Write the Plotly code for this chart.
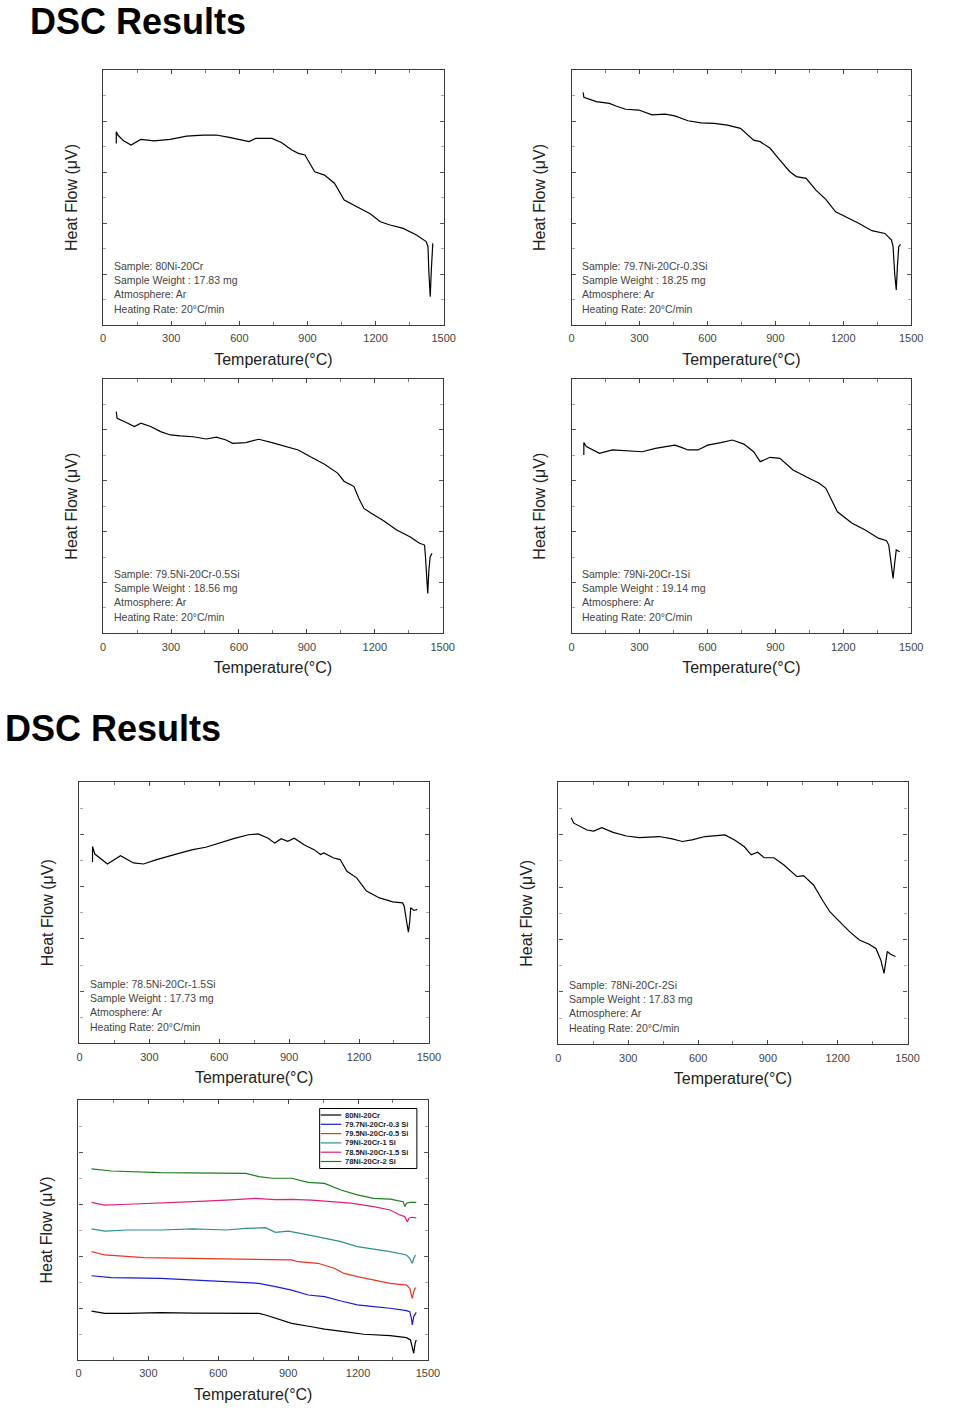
import plotly.graph_objects as go

# ---------------- data ----------------
# Panel 1: 80Ni-20Cr
T1 = [58, 58, 65, 90, 123, 166, 224, 296, 368, 441, 498, 556, 643, 672, 744, 787, 831, 860, 889, 932,
      975, 1019, 1062, 1120, 1178, 1221, 1264, 1322, 1380, 1423, 1431, 1435, 1441, 1445, 1449, 1452]
HF1 = [7.12, 7.58, 7.45, 7.22, 7.06, 7.28, 7.22, 7.28, 7.41, 7.45, 7.45, 7.36, 7.19, 7.32, 7.32, 7.15, 6.86, 6.73, 6.67, 6.01,
       5.88, 5.56, 4.90, 4.64, 4.35, 4.05, 3.92, 3.79, 3.53, 3.27, 3.07, 2.03, 1.11, 2.03, 3.14, 3.20]

# Panel 2: 79.7Ni-20Cr-0.3Si
T2 = [51, 54, 109, 167, 196, 239, 297, 355, 413, 456, 514, 572, 630, 688, 746, 804, 833, 877, 920, 964,
      993, 1036, 1079, 1123, 1166, 1210, 1268, 1326, 1384, 1413, 1420, 1427, 1434, 1439, 1445, 1453]
HF2 = [9.12, 8.93, 8.76, 8.69, 8.59, 8.46, 8.43, 8.24, 8.27, 8.20, 8.01, 7.93, 7.91, 7.84, 7.71, 7.25, 7.19, 6.93, 6.47, 6.01,
       5.82, 5.75, 5.29, 4.93, 4.44, 4.25, 3.99, 3.70, 3.59, 3.33, 3.07, 2.03, 1.37, 2.29, 3.07, 3.16]

# Panel 3: 79.5Ni-20Cr-0.5Si
T3 = [58, 62, 109, 138, 167, 210, 254, 297, 341, 398, 456, 500, 543, 572, 630, 688, 746, 804, 862, 920,
      978, 1036, 1065, 1094, 1108, 1130, 1152, 1181, 1239, 1297, 1355, 1398, 1420, 1424, 1430, 1434, 1439, 1445, 1453]
HF3 = [8.72, 8.45, 8.26, 8.13, 8.26, 8.13, 7.93, 7.80, 7.76, 7.73, 7.64, 7.71, 7.60, 7.47, 7.50, 7.63, 7.50, 7.37, 7.21, 6.92,
       6.65, 6.30, 5.97, 5.84, 5.77, 5.30, 4.91, 4.74, 4.43, 4.06, 3.80, 3.54, 3.47, 3.01, 2.10, 1.57, 2.49, 3.01, 3.15]

# Panel 4: 79Ni-20Cr-1Si
T4 = [54, 54, 65, 123, 181, 254, 312, 370, 427, 456, 485, 514, 558, 601, 659, 710, 761, 804, 833, 877,
      920, 978, 1051, 1094, 1123, 1174, 1239, 1297, 1355, 1391, 1401, 1413, 1420, 1427, 1434, 1449]
HF4 = [7.01, 7.50, 7.34, 7.08, 7.21, 7.17, 7.14, 7.27, 7.34, 7.40, 7.31, 7.21, 7.21, 7.40, 7.50, 7.60, 7.44, 7.14, 6.75, 6.92,
       6.88, 6.42, 6.09, 5.90, 5.70, 4.78, 4.33, 4.06, 3.74, 3.64, 3.47, 2.75, 2.16, 2.75, 3.28, 3.21]

# Panel 5: 78.5Ni-20Cr-1.5Si
T5 = [56, 56, 66, 120, 176, 232, 275, 331, 415, 486, 542, 598, 669, 725, 767, 810, 838, 866, 894, 922,
      964, 1007, 1035, 1049, 1091, 1119, 1148, 1190, 1232, 1288, 1345, 1387, 1394, 1404, 1412, 1418, 1422, 1436, 1450]
HF5 = [6.95, 7.54, 7.25, 6.87, 7.19, 6.91, 6.87, 7.04, 7.25, 7.42, 7.51, 7.67, 7.86, 7.99, 8.02, 7.86, 7.67, 7.84, 7.74, 7.86,
       7.61, 7.42, 7.23, 7.29, 7.10, 7.04, 6.59, 6.34, 5.83, 5.57, 5.42, 5.38, 5.25, 4.68, 4.26, 4.68, 5.19, 5.09, 5.13]

# Panel 6: 78Ni-20Cr-2Si
T6 = [55, 66, 123, 151, 186, 235, 292, 348, 433, 489, 532, 574, 630, 687, 715, 757, 799, 828, 856, 884,
      926, 969, 1025, 1053, 1096, 1138, 1166, 1208, 1251, 1293, 1335, 1364, 1385, 1399, 1406, 1413, 1427, 1448]
HF6 = [8.65, 8.44, 8.18, 8.14, 8.27, 8.09, 7.95, 7.89, 7.93, 7.84, 7.74, 7.80, 7.93, 7.96, 7.99, 7.80, 7.54, 7.23, 7.33, 7.12,
       7.12, 6.84, 6.40, 6.44, 6.08, 5.45, 5.06, 4.68, 4.30, 3.98, 3.82, 3.66, 3.22, 2.71, 3.16, 3.54, 3.44, 3.35]

# Panel 7: stacked comparison
TK = [56, 113, 211, 352, 493, 634, 774, 803, 859, 915, 1000, 1056, 1140, 1225, 1338, 1408, 1425, 1433, 1439, 1445, 1450]
VK = [1.88, 1.79, 1.79, 1.82, 1.80, 1.79, 1.79, 1.73, 1.58, 1.41, 1.28, 1.19, 1.09, 0.99, 0.94, 0.86, 0.77, 0.45, 0.26, 0.64, 0.77]
TB = [56, 141, 352, 634, 774, 845, 915, 986, 1056, 1127, 1197, 1267, 1338, 1408, 1422, 1429, 1433, 1439, 1445, 1450]
VB = [3.24, 3.17, 3.14, 3.01, 2.95, 2.82, 2.69, 2.50, 2.44, 2.27, 2.12, 2.05, 1.99, 1.90, 1.86, 1.60, 1.35, 1.67, 1.79, 1.83]
TR = [56, 113, 282, 493, 774, 915, 943, 1028, 1098, 1140, 1197, 1267, 1338, 1408, 1422, 1429, 1433, 1439, 1445, 1450]
VR = [4.17, 4.04, 3.94, 3.91, 3.88, 3.85, 3.78, 3.72, 3.53, 3.33, 3.21, 3.08, 2.95, 2.88, 2.76, 2.50, 2.37, 2.63, 2.76, 2.78]
TC = [56, 113, 211, 352, 493, 634, 718, 803, 845, 901, 986, 1056, 1127, 1197, 1267, 1338, 1408, 1422, 1429, 1433, 1439, 1447]
VC = [5.04, 4.96, 5.00, 5.00, 5.04, 5.00, 5.06, 5.09, 4.91, 4.96, 4.81, 4.68, 4.55, 4.36, 4.27, 4.17, 4.04, 3.91, 3.78, 3.72, 3.91, 4.04]
TM = [56, 113, 211, 352, 493, 634, 760, 845, 915, 1000, 1084, 1169, 1267, 1338, 1380, 1401, 1408, 1412, 1419, 1429, 1450]
VM = [6.06, 5.96, 5.99, 6.03, 6.09, 6.15, 6.22, 6.17, 6.18, 6.15, 6.09, 6.03, 5.90, 5.77, 5.58, 5.51, 5.38, 5.32, 5.45, 5.49, 5.47]
TG = [56, 141, 352, 634, 718, 774, 831, 915, 986, 1056, 1127, 1197, 1267, 1338, 1394, 1401, 1408, 1422, 1450]
VG = [7.35, 7.27, 7.21, 7.18, 7.18, 7.05, 6.99, 6.99, 6.83, 6.79, 6.54, 6.35, 6.22, 6.19, 6.09, 5.90, 6.03, 6.06, 6.06]

SAMPLE_NAMES = ["80Ni-20Cr", "79.7Ni-20Cr-0.3Si", "79.5Ni-20Cr-0.5Si", "79Ni-20Cr-1Si",
                "78.5Ni-20Cr-1.5Si", "78Ni-20Cr-2Si"]
SAMPLE_WEIGHTS = ["17.83", "18.25", "18.56", "19.14", "17.73", "17.83"]
LEGEND_LABELS = ["80Ni-20Cr", "79.7Ni-20Cr-0.3 Si", "79.5Ni-20Cr-0.5 Si", "79Ni-20Cr-1 Si",
                 "78.5Ni-20Cr-1.5 Si", "78Ni-20Cr-2 Si"]
LEGEND_COLORS = ["#000000", "#1a1ad8", "#e8361c", "#2e8f8f", "#e0207a", "#1c7f1c"]
X_TICKS = [0, 300, 600, 900, 1200, 1500]
X_TICK_TEXT = ["0", "300", "600", "900", "1200", "1500"]

# ---------------- layout helpers ----------------
W, H = 954, 1420
FONT = "Arial, Liberation Sans, sans-serif"
# plot boxes in pixels: left, top, right, bottom
BOXES = [(101.7, 70, 447.7, 325), (577.7, 70, 922.7, 325),
         (101.7, 379, 446.7, 633.3), (577.7, 379, 922.7, 633.3),
         (77.7, 782.3, 432.7, 1043.3), (564.3, 782.3, 919, 1044.3),
         (76.7, 1100, 431.7, 1360)]


def px(x):
    return x / W


def py(y):
    return 1 - y / H


fig = go.Figure()

single = [(T1, HF1), (T2, HF2), (T3, HF3), (T4, HF4), (T5, HF5), (T6, HF6)]
for i, (t, v) in enumerate(single):
    n = "" if i == 0 else str(i + 1)
    fig.add_trace(go.Scatter(x=t, y=v, mode="lines", name=SAMPLE_NAMES[i],
                             line=dict(color="black", width=1.2),
                             xaxis="x" + n, yaxis="y" + n, showlegend=False))

stack = [(TK, VK), (TB, VB), (TR, VR), (TC, VC), (TM, VM), (TG, VG)]
for (t, v), c, name in zip(stack, LEGEND_COLORS, LEGEND_LABELS):
    fig.add_trace(go.Scatter(x=t, y=v, mode="lines", name=name,
                             line=dict(color=c, width=1.2),
                             xaxis="x7", yaxis="y7", showlegend=False))

layout = dict(width=W, height=H, autosize=False, margin=dict(l=0, r=0, t=0, b=0),
              paper_bgcolor="white", plot_bgcolor="white",
              font=dict(family=FONT, color="#222"), showlegend=False)

for i, (l, t, r, b) in enumerate(BOXES):
    n = "" if i == 0 else str(i + 1)
    layout["xaxis" + n] = dict(
        domain=[px(l), px(r)], anchor="y" + n, range=[0, 1500],
        tickmode="array", tickvals=X_TICKS, ticktext=X_TICK_TEXT,
        ticks="inside", ticklen=4, tickcolor="#444", tickwidth=1,
        minor=dict(dtick=150, tick0=0, ticks="inside", ticklen=3, tickcolor="#777", showgrid=False),
        showline=True, linecolor="#3a3a3a", linewidth=1.3, mirror="ticks",
        showgrid=False, zeroline=False, fixedrange=True,
        tickfont=dict(family=FONT, size=11, color="#444"), ticklabelstandoff=3,
        title=dict(text="Temperature(°C)", font=dict(family=FONT, size=16, color="#222"), standoff=10))
    layout["yaxis" + n] = dict(
        domain=[py(b), py(t)], anchor="x" + n, range=[0, 10], dtick=2, tick0=0,
        ticks="inside", ticklen=4, tickcolor="#555", tickwidth=1,
        minor=dict(dtick=1, tick0=0, ticks="inside", ticklen=3, tickcolor="#aaa", showgrid=False),
        showticklabels=False, showline=True, linecolor="#3a3a3a", linewidth=1.3, mirror="ticks",
        showgrid=False, zeroline=False, fixedrange=True,
        title=dict(text="Heat Flow (μV)", font=dict(family=FONT, size=16, color="#222"), standoff=20))

annotations = []
# page titles
for (x, y) in [(25, 22), (0, 728)]:
    annotations.append(dict(text="<b>DSC Results</b>", x=px(x), y=py(y), xref="paper", yref="paper",
                            xanchor="left", yanchor="middle", showarrow=False,
                            font=dict(family=FONT, size=36, color="black")))

# sample information inside the six single plots
for i in range(6):
    l, t, r, b = BOXES[i]
    lines = ["Sample: " + SAMPLE_NAMES[i],
             "Sample Weight : " + SAMPLE_WEIGHTS[i] + " mg",
             "Atmosphere: Ar",
             "Heating Rate: 20°C/min"]
    for k, (txt, off) in enumerate(zip(lines, [-59, -45, -31, -16])):
        annotations.append(dict(text=txt, x=px(l + 9), y=py(b + off), xref="paper", yref="paper",
                                xanchor="left", yanchor="middle", showarrow=False,
                                font=dict(family=FONT, size=10.5, color="#444")))

# legend of the stacked plot (drawn as a boxed key)
shapes = []
LG_L, LG_T, LG_R, LG_B = 321.7, 1108.5, 420.5, 1168.5
shapes.append(dict(type="rect", xref="paper", yref="paper", x0=px(LG_L), x1=px(LG_R),
                   y0=py(LG_B), y1=py(LG_T), line=dict(color="black", width=1), fillcolor="white"))
for k, (lab, c) in enumerate(zip(LEGEND_LABELS, LEGEND_COLORS)):
    yy = LG_T + 6.5 + k * 9.3
    shapes.append(dict(type="line", xref="paper", yref="paper", x0=px(LG_L + 1), x1=px(LG_L + 22),
                       y0=py(yy), y1=py(yy), line=dict(color=c, width=1.2)))
    annotations.append(dict(text="<b>" + lab + "</b>", x=px(LG_L + 24), y=py(yy), xref="paper", yref="paper",
                            xanchor="left", yanchor="middle", showarrow=False,
                            font=dict(family=FONT, size=7.5, color="#222")))

layout["annotations"] = annotations
layout["shapes"] = shapes
fig.update_layout(**layout)

fig.write_html("out.html",
               config={"responsive": False, "displayModeBar": False},
               post_script="document.body.style.margin='0';document.body.style.overflow='hidden';")
